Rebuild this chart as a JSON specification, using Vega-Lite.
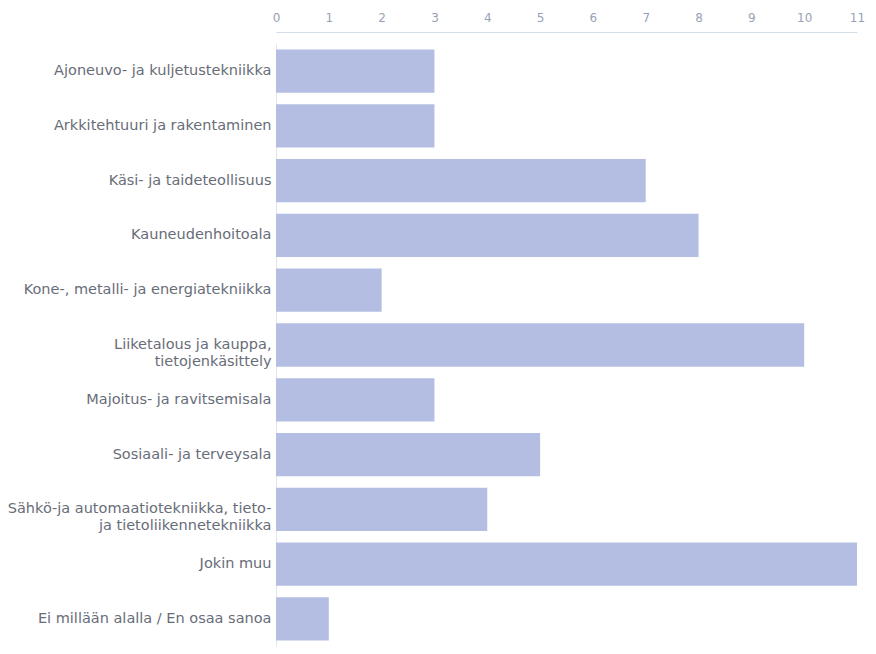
{
  "$schema": "https://vega.github.io/schema/vega-lite/v6.json",
  "autosize": "none",
  "width": 581,
  "height": 602,
  "padding": {"left": 276, "top": 44, "right": 19, "bottom": 8},
  "background": "white",
  "data": {"values": [
    {"ala": "Ajoneuvo- ja kuljetustekniikka", "n": 3},
    {"ala": "Arkkitehtuuri ja rakentaminen", "n": 3},
    {"ala": "Käsi- ja taideteollisuus", "n": 7},
    {"ala": "Kauneudenhoitoala", "n": 8},
    {"ala": "Kone-, metalli- ja energiatekniikka", "n": 2},
    {"ala": "Liiketalous ja kauppa,|tietojenkäsittely", "n": 10},
    {"ala": "Majoitus- ja ravitsemisala", "n": 3},
    {"ala": "Sosiaali- ja terveysala", "n": 5},
    {"ala": "Sähkö-ja automaatiotekniikka, tieto-|ja tietoliikennetekniikka", "n": 4},
    {"ala": "Jokin muu", "n": 11},
    {"ala": "Ei millään alalla / En osaa sanoa", "n": 1}
  ]},
  "mark": {"type": "bar", "color": "#b4bee3"},
  "encoding": {
    "y": {
      "field": "ala", "type": "nominal", "sort": null,
      "scale": {"paddingInner": 0.21, "paddingOuter": 0.1},
      "axis": {
        "title": null, "ticks": false, "labelPadding": 5,
        "labelExpr": "split(datum.label, '|')",
        "labelFont": "DejaVu Sans", "labelFontSize": 14.5, "labelColor": "#686d78",
        "labelLimit": 300, "labelLineHeight": 17,
        "domainColor": "#dfe6ee", "offset": 0
      }
    },
    "x": {
      "field": "n", "type": "quantitative",
      "scale": {"domain": [0, 11], "nice": false},
      "axis": {
        "orient": "top", "title": null, "values": [0,1,2,3,4,5,6,7,8,9,10,11],
        "labelOverlap": false, "labelFlush": false,
        "grid": false, "ticks": false, "labelPadding": 8, "offset": 12,
        "labelFont": "DejaVu Sans", "labelFontSize": 12, "labelColor": "#97a3b5",
        "domainColor": "#d3dde8"
      }
    }
  },
  "config": {"view": {"stroke": null}}
}
